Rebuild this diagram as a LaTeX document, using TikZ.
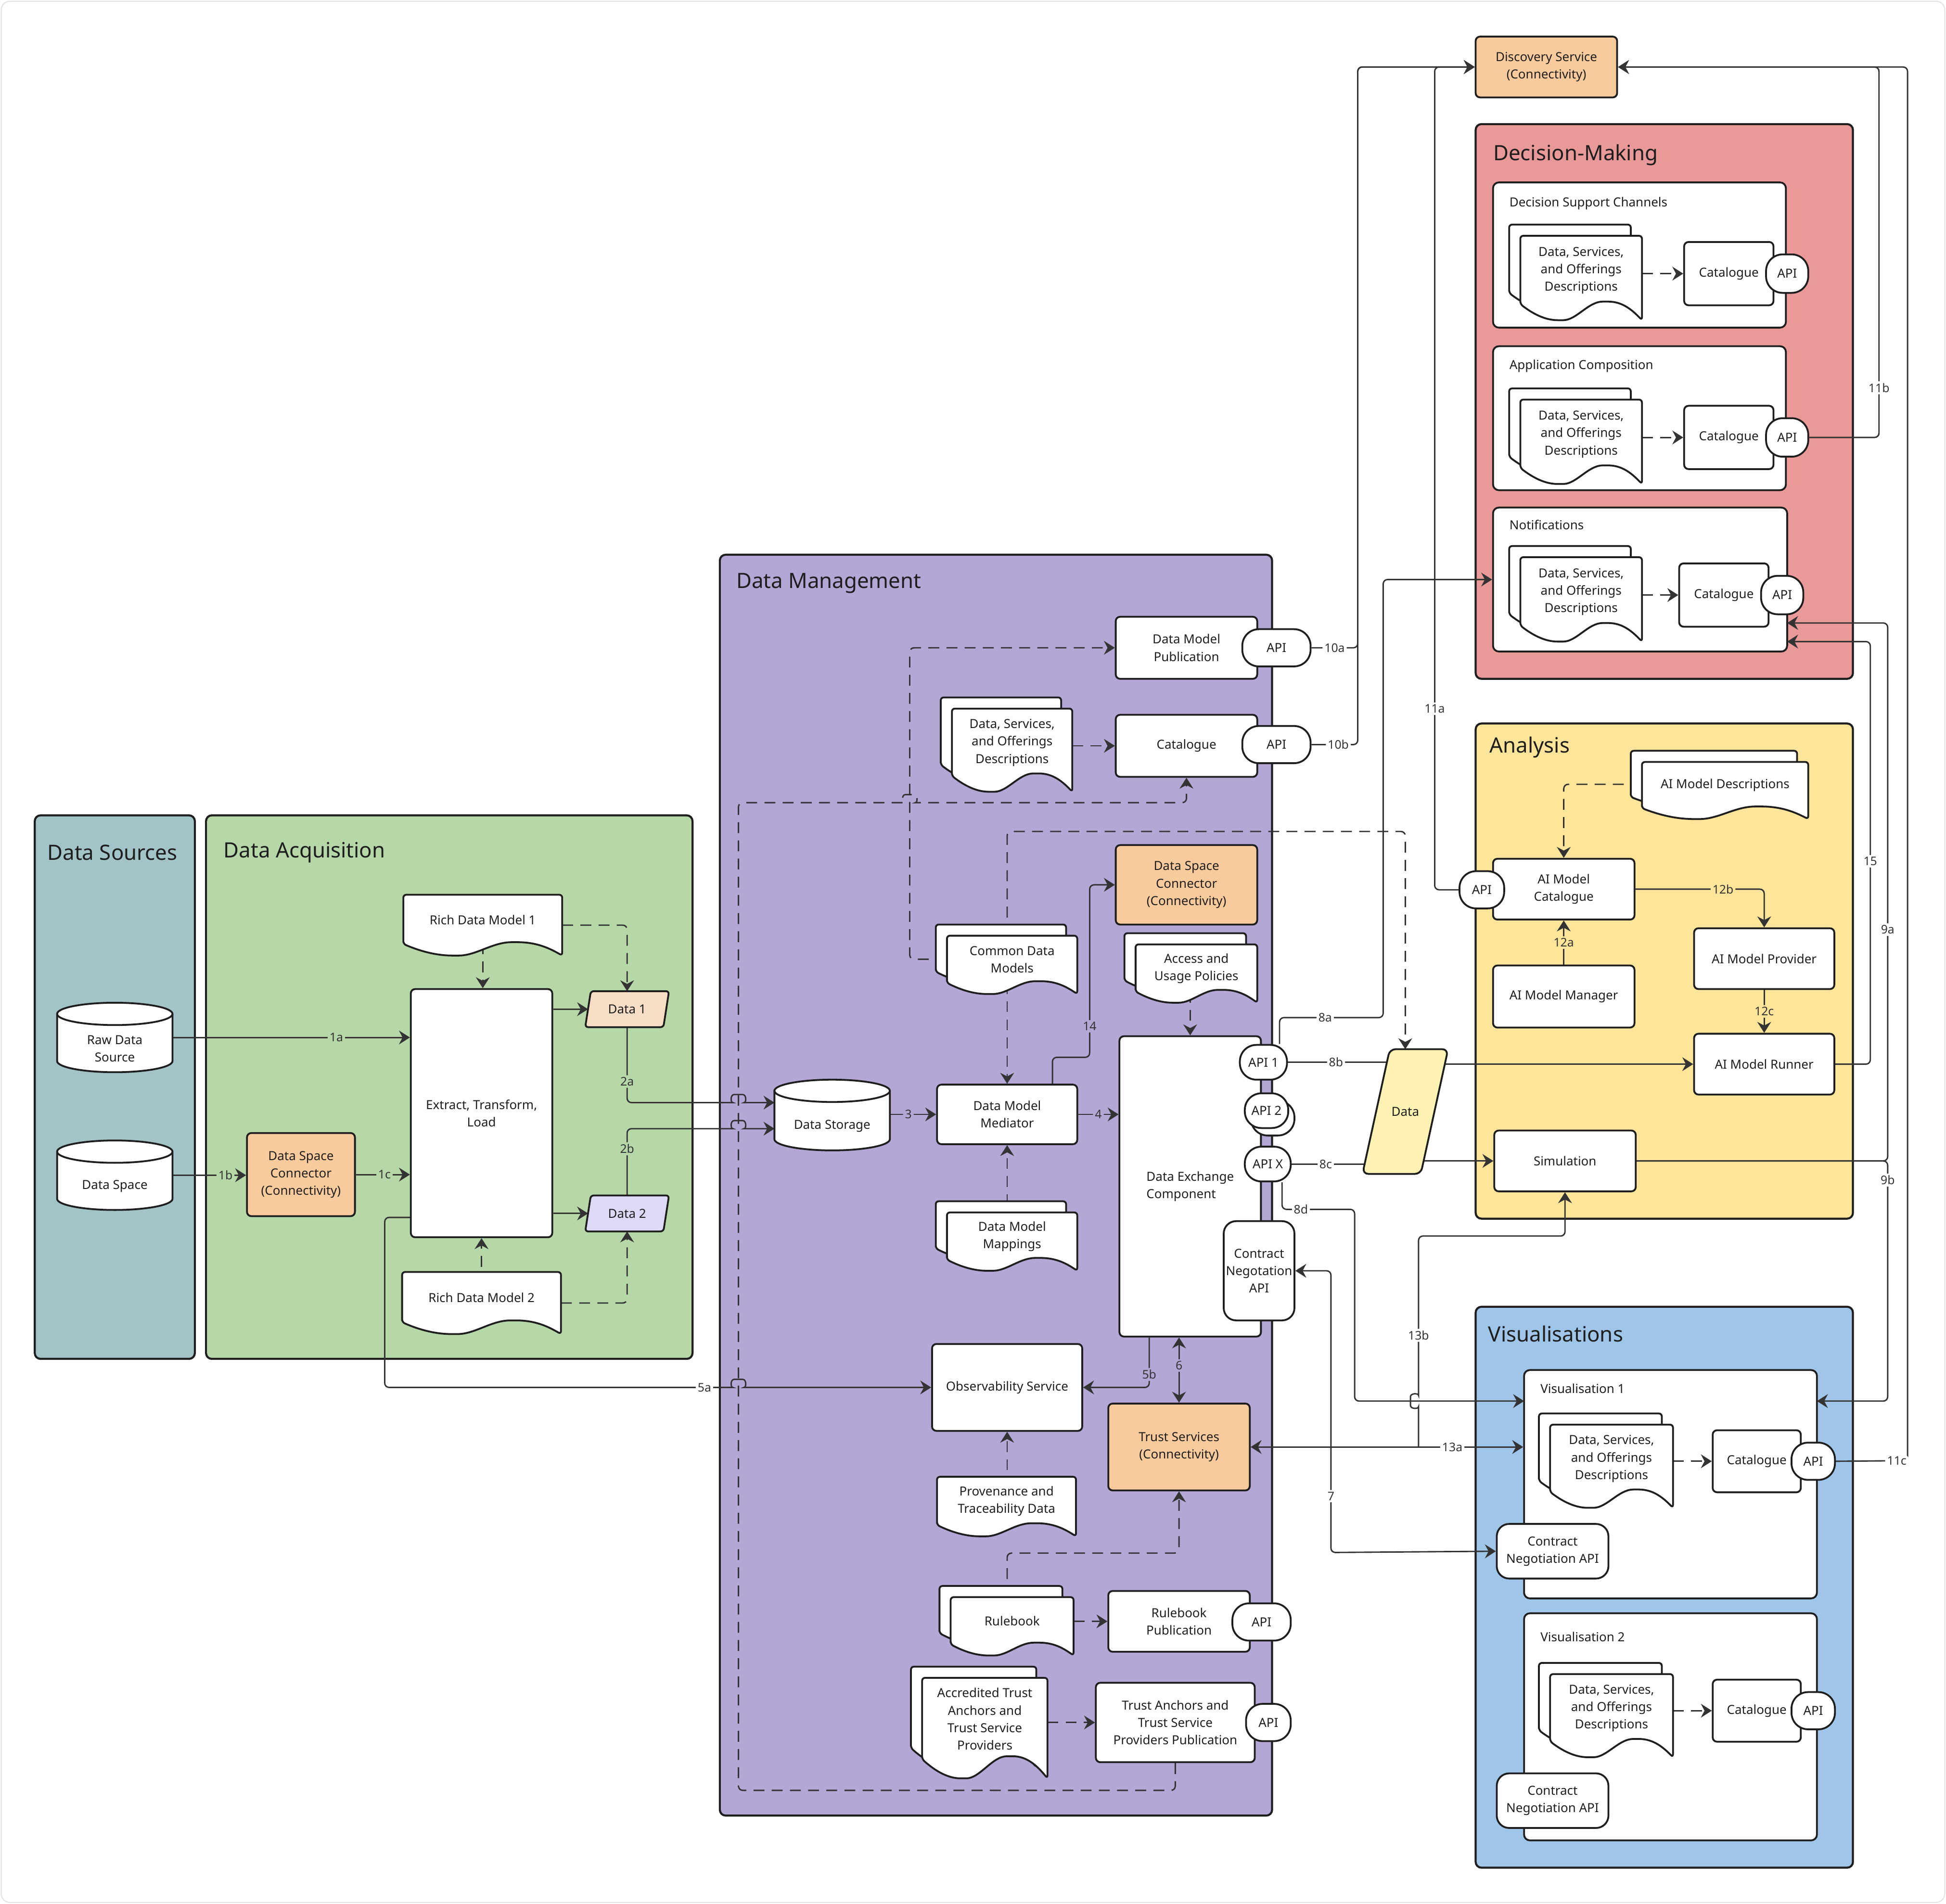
\documentclass[tikz,border=0pt]{standalone}
\usepackage{fontspec}
\setmainfont{Noto Sans}
\usetikzlibrary{arrows.meta}

\definecolor{ink}{HTML}{1E1E1E}
\definecolor{wirecol}{HTML}{333333}
\definecolor{dscol}{HTML}{A2C4C9}
\definecolor{dacol}{HTML}{B6D7A8}
\definecolor{dmcol}{HTML}{B4A7D6}
\definecolor{dmkcol}{HTML}{EA9999}
\definecolor{ancol}{HTML}{FFE599}
\definecolor{vicol}{HTML}{9FC5E8}
\definecolor{conncol}{HTML}{F9CB9C}
\definecolor{d1col}{HTML}{F9DEC6}
\definecolor{d2col}{HTML}{DDDAF8}
\definecolor{datacol}{HTML}{FFF3B4}

\newcommand{\bodyfont}{\fontsize{8.6}{12}\selectfont}
\newcommand{\titlefont}{\fontsize{14.5}{17}\selectfont}
\newcommand{\lblfont}{\fontsize{8.2}{10}\selectfont}

\pgfdeclarelayer{boxes}
\pgfdeclarelayer{wires}
\pgfsetlayers{boxes,wires,main}

\tikzset{
  px/.style 2 args={minimum width={(#1)*0.3mm}, minimum height={(#2)*0.3mm}},
  box/.style={draw=ink, line width=1.25pt, fill=white, rounded corners=3pt, inner sep=1pt, align=center, font=\bodyfont, text=ink},
  conn/.style={box, fill=conncol},
  api/.style={box, rounded corners=4mm},
  frame/.style={inner sep=0pt, outer sep=0pt},
  txt/.style={inner sep=0pt, align=center, font=\bodyfont, text=ink},
  docline/.style={draw=ink, line width=1.25pt, fill=white, rounded corners=2pt},
  cont/.style={draw=ink, line width=1.4pt, rounded corners=4pt},
  sub/.style={draw=ink, line width=1.25pt, fill=white, rounded corners=4pt, inner sep=0pt},
  title/.style={anchor=west, inner sep=0pt, font=\titlefont, text=ink},
  subcap/.style={anchor=west, inner sep=0pt, font=\bodyfont, text=ink},
  wire/.style={draw=wirecol, line width=0.95pt, rounded corners=3pt},
  dwire/.style={wire, dash pattern=on 7.5pt off 5pt},
  lbl/.style={fill=white, inner sep=1.3pt, font=\lblfont, text=wirecol},
  >={Stealth[length=7.5pt,width=9.5pt,inset=2.5pt]}
}

\newcommand{\docpath}[4]{%
  \pgfmathsetmacro\dcw{(#3)-(#1)}\pgfmathsetmacro\dch{(#4)-(#2)}%
  \filldraw[docline] ({#1},{(#4)-0.19*\dch}) -- ({#1},{#2}) -- ({#3},{#2}) -- ({#3},{#4})
    .. controls ({(#1)+0.92*\dcw},{(#4)-0.12*\dch}) and ({(#1)+0.84*\dcw},{(#4)-0.22*\dch}) .. ({(#1)+0.7*\dcw},{(#4)-0.22*\dch})
    .. controls ({(#1)+0.56*\dcw},{(#4)-0.22*\dch}) and ({(#1)+0.46*\dcw},{#4}) .. ({(#1)+0.33*\dcw},{#4})
    .. controls ({(#1)+0.2*\dcw},{#4}) and ({(#1)+0.1*\dcw},{(#4)-0.08*\dch}) .. cycle;}
\newcommand{\docone}[6]{%
  \docpath{#2}{#3}{#4}{#5}%
  \node[frame, px={(#4)-(#2)}{(#5)-(#3)}] (#1) at ({((#2)+(#4))/2},{((#3)+(#5))/2}) {};%
  \node[txt] (#1-t) at ({((#2)+(#4))/2},{(#3)+0.41*((#5)-(#3))}) {#6};}
\newcommand{\docstack}[6]{%
  \docpath{(#2)-9}{(#3)-9}{(#4)-9}{(#5)-9}%
  \docone{#1}{#2}{#3}{#4}{#5}{#6}}
\newcommand{\cyl}[6]{%
  \pgfmathsetmacro\crx{((#4)-(#2))*0.015}%
  \filldraw[docline, sharp corners] ({#2},{(#3)+9}) -- ({#2},{(#5)-9})
    arc[start angle=180, end angle=360, x radius=\crx cm, y radius=0.27cm] -- ({#4},{(#3)+9})
    arc[start angle=0, end angle=180, x radius=\crx cm, y radius=0.27cm] -- cycle;%
  \draw[docline, fill=none, sharp corners] ({#2},{(#3)+9}) arc[start angle=180, end angle=360, x radius=\crx cm, y radius=0.27cm];%
  \node[frame, px={(#4)-(#2)}{(#5)-(#3)}] (#1) at ({((#2)+(#4))/2},{((#3)+(#5))/2}) {};%
  \node[txt] (#1-t) at ({((#2)+(#4))/2},{((#3)+(#5))/2+9}) {#6};}
\newcommand{\para}[8]{%
  \filldraw[docline, #7] ({(#2)-(#4)/2+(#6)},{(#3)-(#5)/2}) -- ({(#2)+(#4)/2},{(#3)-(#5)/2})
    -- ({(#2)+(#4)/2-(#6)},{(#3)+(#5)/2}) -- ({(#2)-(#4)/2},{(#3)+(#5)/2}) -- cycle;%
  \node[frame, px={(#4)-(#6)}{#5}, font=\bodyfont, text=ink] (#1) at (#2,#3) {#8};}

\begin{document}
\begin{tikzpicture}[x=0.3mm, y=-0.3mm]
\useasboundingbox (0,0) rectangle (1568,1534);

\begin{pgfonlayer}{boxes}
\fill[white] (0,0) rectangle (1568,1534);
\draw[black!10, line width=0.8pt, rounded corners=6pt] (1,1) rectangle (1567,1533);
\draw[cont, fill=dscol] (28,657) rectangle (157,1095);
\draw[cont, fill=dacol] (166,657) rectangle (558,1095);
\draw[cont, fill=dmcol] (580,447) rectangle (1025,1463);
\draw[cont, fill=dmkcol] (1189,100) rectangle (1493,547);
\draw[cont, fill=ancol] (1189,583) rectangle (1493,982);
\draw[cont, fill=vicol] (1189,1053) rectangle (1493,1505);
\node[sub, px={236}{117}] (dsch) at (1321,205.5) {};
\node[sub, px={236}{116}] (apc) at (1321,337) {};
\node[sub, px={237}{116}] (ntf) at (1321.5,467) {};
\node[sub, px={236}{184}] (v1) at (1346,1196) {};
\node[sub, px={236}{183}] (v2) at (1346,1391.5) {};
\end{pgfonlayer}

\node[title] (ds-t) at (38,687) {Data Sources};
\node[title] (da-t) at (180,687) {Data Acquisition};
\node[title] (dm-t) at (593,470) {Data Management};
\node[title] (dmk-t) at (1203,125) {Decision-Making};
\node[title] (an-t) at (1200,602) {Analysis};
\node[title] (vi-t) at (1199,1075) {Visualisations};
\node[subcap] (dsch-t) at (1216,164) {Decision Support Channels};
\node[subcap] (apc-t) at (1216,295) {Application Composition};
\node[subcap] (ntf-t) at (1216,423) {Notifications};
\node[subcap] (v1-t) at (1241,1119) {Visualisation 1};
\node[subcap] (v2-t) at (1241,1319) {Visualisation 2};

% data sources and acquisition
\cyl{rds}{46}{808}{139}{864}{Raw Data\\Source}
\cyl{dsp}{46}{919}{139}{975}{Data Space}
\node[conn, px={87}{67}] (dsc1) at (242.5,946.5) {Data Space\\Connector\\(Connectivity)};
\node[box, px={114}{200}] (etl) at (388,897) {Extract, Transform,\\Load};
\docone{rdm1}{325}{721}{453}{770}{Rich Data Model 1}
\docone{rdm2}{324}{1025}{452}{1075}{Rich Data Model 2}
\para{d1}{505.3}{813.2}{67.5}{29}{4.5}{fill=d1col}{Data 1}
\para{d2}{505.3}{977.8}{67.5}{29}{4.5}{fill=d2col}{Data 2}

% data management
\node[box, px={114}{50}] (dmp) at (956,522) {Data Model\\Publication};
\node[api, px={55}{30}] (dmpapi) at (1028.5,522) {API};
\docstack{dsod}{767}{571}{864}{638}{Data, Services,\\and Offerings\\Descriptions}
\node[box, px={114}{50}] (cat) at (956,601) {Catalogue};
\node[api, px={55}{30}] (catapi) at (1028.5,600) {API};
\node[conn, px={114}{64}] (dsc2) at (956,713) {Data Space\\Connector\\(Connectivity)};
\docstack{cdm}{763}{754}{868}{801}{Common Data\\Models}
\docstack{aup}{915}{761}{1013}{808}{Access and\\Usage Policies}
\cyl{dstor}{624}{870}{717}{927}{Data Storage}
\node[box, px={113}{48}] (dmm) at (811.5,898) {Data Model\\Mediator};
\node[box, px={114}{242}, align=left] (dec) at (959,956) {Data Exchange\\Component};
\node[api, px={38}{28}] (api1) at (1018,856) {API 1};
\node[api, px={35}{28}] (api2b) at (1025.5,901) {};
\node[api, px={35}{28}] (api2) at (1020.5,895) {API 2};
\node[api, px={37}{28}] (apix) at (1021.5,938) {API X};
\node[box, px={57}{80}, rounded corners=3mm] (cna) at (1014.5,1024) {Contract\\Negotation\\API};
\docstack{dmmap}{763}{977}{868}{1024}{Data Model\\Mappings}
\node[box, px={121}{70}] (obs) at (811.5,1118) {Observability Service};
\node[conn, px={114}{70}] (ts) at (950,1166) {Trust Services\\(Connectivity)};
\docone{ptd}{755}{1190}{867}{1238}{Provenance and\\Traceability Data}
\docstack{rb}{766}{1287}{865}{1334}{Rulebook}
\node[box, px={114}{49}] (rbp) at (950,1306.5) {Rulebook\\Publication};
\node[api, px={47}{30}] (rbpapi) at (1016.5,1307) {API};
\docstack{atp}{743}{1352}{844}{1433}{Accredited Trust\\Anchors and\\Trust Service\\Providers}
\node[box, px={128}{64}] (tap) at (947,1388) {Trust Anchors and\\Trust Service\\Providers Publication};
\node[api, px={36}{30}] (tapapi) at (1022,1388) {API};

% decision-making
\node[conn, px={114}{49}] (disc) at (1246,54) {Discovery Service\\(Connectivity)};
\foreach \n/\ty/\cx in {1/190/1393, 2/322/1393, 3/449/1389}{
  \docstack{ddoc\n}{1225}{\ty}{1323}{\ty+68}{Data, Services,\\and Offerings\\Descriptions}
  \node[box, px={72}{51}] (dcat\n) at (\cx,\ty+30.5) {Catalogue};
  \node[api, px={34}{31}] (dapi\n) at (\cx+47,\ty+30.5) {API};
}

% analysis
\docstack{aimd}{1323}{614}{1457}{660}{AI Model Descriptions}
\node[box, px={114}{49}] (aimc) at (1260,716.5) {AI Model\\Catalogue};
\node[api, px={36}{30}] (aimcapi) at (1194,717) {API};
\node[box, px={114}{50}] (aimm) at (1260,803) {AI Model Manager};
\node[box, px={113}{49}] (aimp) at (1421.5,772.5) {AI Model Provider};
\node[box, px={113}{49}] (aimr) at (1421.5,857.5) {AI Model Runner};
\node[box, px={114}{49}] (sim) at (1261,935.5) {Simulation};
\para{data}{1132.3}{895.7}{69}{100.5}{22}{fill=datacol, rounded corners=4pt}{Data}

% visualisations
\foreach \n/\ty in {1/1148, 2/1349}{
  \docstack{vdoc\n}{1249}{\ty}{1348}{\ty+67}{Data, Services,\\and Offerings\\Descriptions}
  \node[box, px={71}{50}] (vcat\n) at (1415.5,\ty+29.5) {Catalogue};
  \node[api, px={35}{30}] (vapi\n) at (1461,\ty+29.5) {API};
  \node[box, px={90}{44}, rounded corners=3mm] (vcna\n) at (1251,\ty+102) {Contract\\Negotiation API};
}

\coordinate (n15) at (1440,517);
\coordinate (n9a) at (1440,502);
\coordinate (e9b) at (1464,1129);
\coordinate (v1a) at (1228,1129);
\coordinate (b13) at (1143,1166);

\begin{pgfonlayer}{wires}
% acquisition
\draw[wire,->] (rds.east) -- node[lbl, fill=dacol, pos=0.69] (l1a) {1a} (rds.east -| etl.west);
\draw[wire,->] (dsp.east) -- node[lbl, fill=dacol, pos=0.72] (l1b) {1b} (dsp.east -| dsc1.west);
\draw[wire,->] (dsc1.east) -- node[lbl, fill=dacol, pos=0.53] (l1c) {1c} (dsc1.east -| etl.west);
\draw[wire,->] (etl.east |- d1) -- (d1.west);
\draw[wire,->] (etl.east |- d2) -- (d2.west);
\draw[dwire,->] (rdm1.center) -- (rdm1.center |- etl.north);
\draw[dwire,->] (rdm1.east) -| (d1.north);
\draw[dwire,->] (rdm2.center) -- (rdm2.center |- etl.south);
\draw[dwire,->] (rdm2.east) -| (d2.south);
\draw[wire,->] (d1.south) |- node[lbl, fill=dacol, pos=0.36] (l2a) {2a} (587,888.5)
  .. controls (588.5,888.5) and (588.5,882) .. (595,882) .. controls (601.5,882) and (601.5,888.5) .. (603,888.5)
  -- (dstor.west |- 0,888.5);
\draw[wire,->] (d2.north) |- node[lbl, fill=dacol, pos=0.35] (l2b) {2b} (587,909.5)
  .. controls (588.5,909.5) and (588.5,903) .. (595,903) .. controls (601.5,903) and (601.5,909.5) .. (603,909.5)
  -- (dstor.west |- 0,909.5);
\draw[wire,->] (etl.west |- 0,981) -| (310,1118) -- node[lbl, pos=0.93] (l5a) {5a} (587,1118)
  .. controls (588.5,1118) and (588.5,1111.5) .. (595,1111.5) .. controls (601.5,1111.5) and (601.5,1118) .. (603,1118)
  -- (obs.west);

% data management
\draw[wire,->] (dstor.east |- dmm.west) -- node[lbl, fill=dmcol, pos=0.4] (l3) {3} (dmm.west);
\draw[wire,->] (dmm.east) -- node[lbl, fill=dmcol] (l4) {4} (dmm.east -| dec.west);
\draw[wire,->] (dmm.north -| 848,0) |- (878,852) |- node[lbl, fill=dmcol, pos=0.09] (l14) {14} (dsc2.west);
\draw[dwire,->] (dmm.north |- cdm.center) -- (dmm.north);
\draw[dwire,->] (dmm.south |- dmmap.center) -- (dmm.south);
\draw[dwire,->] (cdm.west |- 0,773) -| (733,522) -- (dmp.west);
\draw[dwire,->] (dmm.north |- cdm.north) |- (data.north |- 0,670) -- (data.north);
\draw[dwire,->] (cat.west -| dsod.east) -- (cat.west);
\draw[dwire,->] (tap.south) |- (595,1442.7) |- (725,646.8)
  .. controls (726.5,646.8) and (726.5,640.3) .. (733,640.3) .. controls (739.5,640.3) and (739.5,646.8) .. (741,646.8)
  -| (cat.south);
\draw[dwire,->] (dec.north |- aup.center) -- (dec.north);
\draw[wire,->] (dec.south -| 926,0) |- node[lbl, fill=dmcol, pos=0.37] (l5b) {5b} (obs.east);
\draw[wire,<->] (dec.south -| ts.north) -- node[lbl, fill=dmcol, pos=0.43] (l6) {6} (ts.north);
\draw[dwire,->] (obs.south |- ptd.center) -- (obs.south);
\draw[dwire,->] (obs.south |- rb.north) |- (ts.south |- 0,1251.5) -- (ts.south);
\draw[dwire,->] (rbp.west -| rb.east) -- (rbp.west);
\draw[dwire,->] (tap.west -| atp.east) -- (tap.west);

% discovery
\draw[wire,->] (dmpapi.east) -- node[lbl, pos=0.5] (l10a) {10a} (1094,522) |- (disc.west);
\draw[wire,->] (catapi.east) -- node[lbl, pos=0.58] (l10b) {10b} (1094,600) |- (disc.west);
\draw[wire,->] (aimcapi.west) -- (1156,717) |- node[lbl, pos=0.11] (l11a) {11a} (disc.west);
\draw[wire,->] (dapi2.east) -| node[lbl, pos=0.567] (l11b) {11b} (1514,54) -- (disc.east);
\draw[wire,->] (vapi1.east) -- node[lbl, pos=0.85] (l11c) {11c} (1537,1177) |- (disc.east);
\foreach \n in {1,2,3}
  \draw[dwire,->] (dcat\n.west -| ddoc\n.east) -- (dcat\n.west);
\foreach \n in {1,2}
  \draw[dwire,->] (vcat\n.west -| vdoc\n.east) -- (vcat\n.west);

% data exchange
\draw[wire,->] (api1.north -| 1031,0) |- node[lbl, pos=0.72] (l8a) {8a} (1114.5,820) |- (ntf.west);
\draw[wire] (api1.east) -- node[lbl, pos=0.41] (l8b) {8b} (api1.east -| data.center);
\draw[wire,->] (data.center |- aimr.west) -- (aimr.west);
\draw[wire] (apix.east) -- node[lbl, pos=0.3] (l8c) {8c} (apix.east -| data.center);
\draw[wire,->] (data.center |- sim.west) -- (sim.west);
\draw[wire,->] (apix.south -| 1033,0) |- node[lbl, pos=0.63] (l8d) {8d} (1091.5,974.5) |- (v1a);
\draw[wire,<->] (cna.east) -| node[lbl, pos=0.9] (l7) {7} (1072.4,1251) -- (vcna1.west);
\draw[wire,<->] (ts.east) -- node[lbl, pos=0.74] (l13a) {13a} (ts.east -| v1.west);
\draw[wire,->] (b13) -- (1143,1137)
  .. controls (1143,1135.5) and (1136.5,1135.5) .. (1136.5,1129) .. controls (1136.5,1122.5) and (1143,1122.5) .. (1143,1121)
  -- node[lbl, pos=0.36] (l13b) {13b} (1143,996) -| (sim.south);

% analysis
\draw[dwire,->] (aimd.west |- 0,632) -| (aimc.north);
\draw[wire,->] (aimm.north) -- node[lbl, fill=ancol] (l12a) {12a} (aimc.south);
\draw[wire,->] (aimc.east) -| node[lbl, fill=ancol, pos=0.34] (l12b) {12b} (aimp.north);
\draw[wire,->] (aimp.south) -- node[lbl, fill=ancol] (l12c) {12c} (aimr.north);
\draw[wire,->] (aimr.east) -| node[lbl, pos=0.74] (l15) {15} (1507,517) -- (n15);
\draw[wire,->] (sim.east) -| node[lbl, pos=0.715] (l9a) {9a} (1521,502) -- (n9a);
\draw[wire,->] (sim.east) -| node[lbl, pos=0.54] (l9b) {9b} (1521,1129) -- (e9b);
\end{pgfonlayer}
\end{tikzpicture}
\end{document}
